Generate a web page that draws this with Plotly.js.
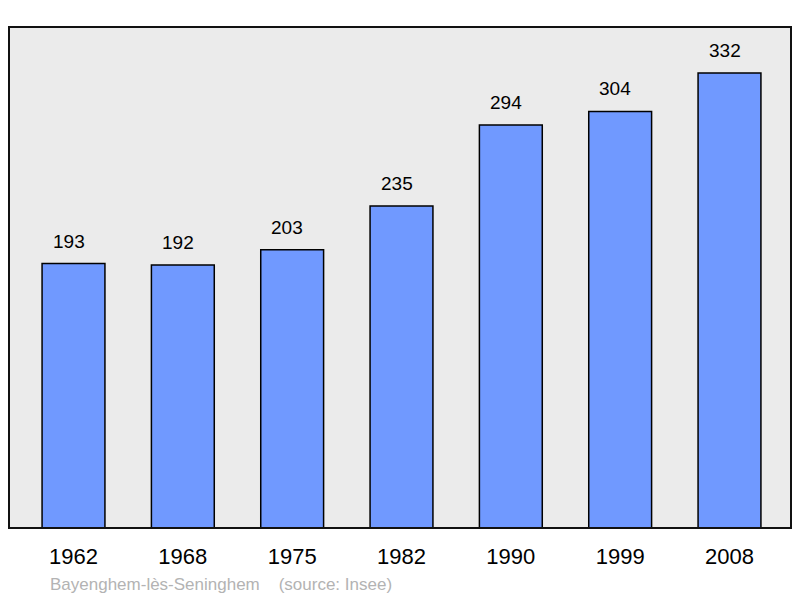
<!DOCTYPE html>
<html><head><meta charset="utf-8">
<script src="https://cdn.plot.ly/plotly-3.0.1.min.js"></script>
<style>html,body{margin:0;padding:0;background:#fff}#c{width:800px;height:598px}</style>
</head><body><div id="c"></div>
<script>
const years = ["1962","1968","1975","1982","1990","1999","2008"];
const population = [193,192,203,235,294,304,332];
const footerText = "Bayenghem-lès-Seninghem &nbsp;&nbsp;&nbsp;(source: Insee)";

const trace = {
  type: 'bar', x: years, y: population,
  marker: {color: '#7099ff', line: {color: '#000', width: 1.5}},
  width: 0.575, hoverinfo: 'none'
};
const annotations = years.map((yr, i) => ({
  x: i, y: population[i], text: String(population[i]), showarrow: false,
  yanchor: 'bottom', yshift: 10, xshift: -5,
  font: {family: 'Liberation Sans, Arial, sans-serif', size: 19, color: '#000'}
}));
annotations.push({
  xref: 'paper', yref: 'paper', x: 0.0505, y: -0.112, xanchor: 'left', yanchor: 'middle',
  text: footerText, showarrow: false,
  font: {family: 'Liberation Sans, Arial, sans-serif', size: 17, color: '#b3b3b3'}
});
const layout = {
  width: 800, height: 598,
  margin: {l: 9, r: 9, t: 27, b: 70},
  paper_bgcolor: '#fff', plot_bgcolor: '#ebebeb',
  showlegend: false,
  xaxis: {type: 'category', range: [-0.59, 6.5625], showgrid: false, zeroline: false,
    showline: false, ticks: '', ticklabelstandoff: 13,
    tickfont: {family: 'Liberation Sans, Arial, sans-serif', size: 22, color: '#000'}},
  yaxis: {range: [0, 365.6], showgrid: false, zeroline: false, showticklabels: false, ticks: ''},
  shapes: [{type: 'rect', xref: 'paper', yref: 'paper', x0: 0, x1: 1, y0: 0, y1: 1,
    line: {color: '#111', width: 2}, layer: 'above'}],
  annotations: annotations
};
Plotly.newPlot('c', [trace], layout, {displayModeBar: false, staticPlot: true});
</script></body></html>
